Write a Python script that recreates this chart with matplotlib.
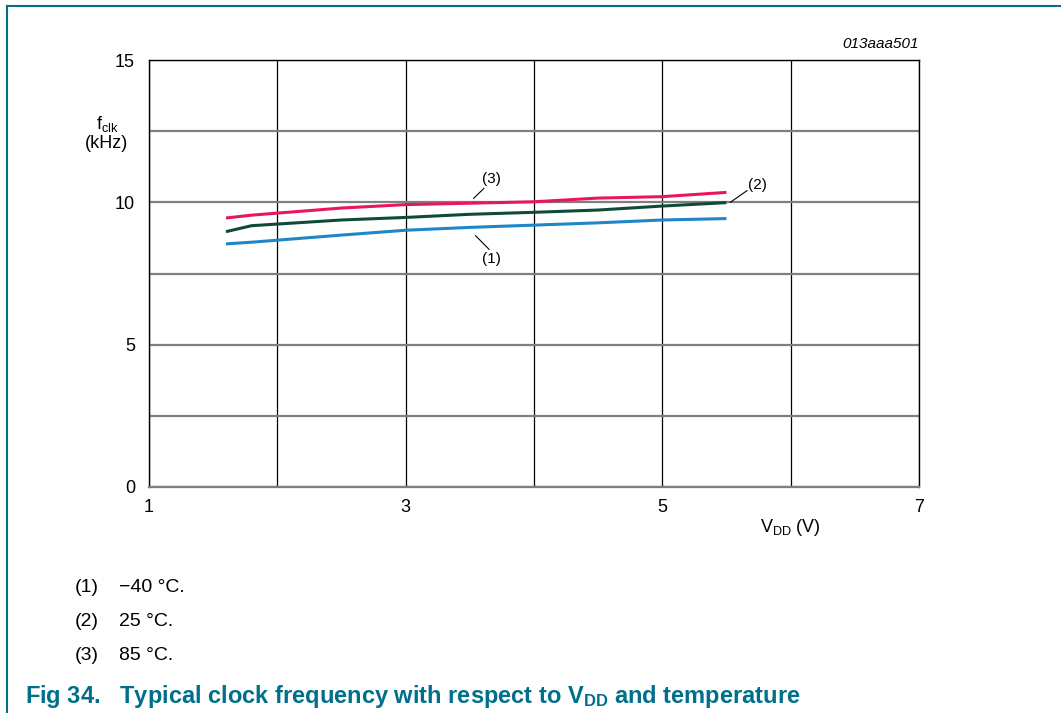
import numpy as np
import matplotlib.pyplot as plt

plt.rcParams['font.family'] = ['Liberation Sans', 'DejaVu Sans']

# supply voltage (V)
vdd = [1.6, 1.8, 2.5, 3.0, 3.5, 4.0, 4.5, 5.0, 5.5]
# clock frequency (kHz) per temperature
f_m40 = [8.54, 8.60, 8.85, 9.02, 9.12, 9.20, 9.28, 9.38, 9.43]
f_25 = [8.97, 9.18, 9.38, 9.47, 9.58, 9.65, 9.73, 9.87, 9.99]
f_85 = [9.45, 9.55, 9.80, 9.92, 9.97, 10.02, 10.15, 10.20, 10.35]

note_ids = ['(1)', '(2)', '(3)']
note_txt = ['\u221240 \u00b0C.', '25 \u00b0C.', '85 \u00b0C.']
teal = '#00708a'

fig = plt.figure(figsize=(10.61, 7.13), dpi=100)
ax = fig.add_axes([0.1404, 0.3170, 0.7257, 0.5988])

ax.plot(vdd, f_m40, color='#1f87c8', lw=2.2, solid_capstyle='butt')
ax.plot(vdd, f_25, color='#0f4a38', lw=2.2, solid_capstyle='butt')
ax.plot(vdd, f_85, color='#e8175d', lw=2.2, solid_capstyle='butt')

ax.set_xlim(1, 7)
ax.set_ylim(0, 15)
ax.set_xticks([1, 3, 5, 7])
ax.set_xticks([2, 4, 6], minor=True)
ax.set_yticks([0, 5, 10, 15])
ax.set_yticks([2.5, 7.5, 12.5], minor=True)
ax.tick_params(which='both', length=0, labelsize=13, pad=9)
ax.tick_params(axis='y', pad=10)
ax.grid(axis='x', which='both', color='black', lw=0.9)
ax.grid(axis='y', which='both', color='#7f7f7f', lw=1.6)
for s in ax.spines.values():
    s.set_color('black')
    s.set_linewidth(1.0)
ax.spines['bottom'].set_color('#7f7f7f')
ax.spines['bottom'].set_linewidth(1.6)

# curve labels with leader lines
ax.plot([3.53, 3.61], [10.14, 10.49], color='black', lw=0.8)
ax.text(3.67, 10.82, '(3)', fontsize=11, ha='center', va='center')
ax.plot([3.545, 3.65], [8.83, 8.35], color='black', lw=0.8)
ax.text(3.67, 8.0, '(1)', fontsize=11, ha='center', va='center')
ax.plot([5.53, 5.66], [10.0, 10.41], color='black', lw=0.8)
ax.text(5.74, 10.6, '(2)', fontsize=11, ha='center', va='center')

ax.text(1.0, 1.02, '013aaa501', transform=ax.transAxes, ha='right', va='bottom',
        fontsize=11, style='italic')
fig.text(107 / 1061, 1 - 133 / 713, '$\\mathregular{f_{clk}}$\n(kHz)', ha='center',
         va='center', fontsize=13, linespacing=1.1)
fig.text(790 / 1061, 1 - 527 / 713, '$\\mathregular{V_{DD}}$ (V)', ha='center',
         va='center', fontsize=13)

for i in range(len(note_ids)):
    y = 1 - (587 + 34 * i) / 713
    fig.text(75 / 1061, y, note_ids[i], ha='left', va='center', fontsize=14)
    fig.text(119 / 1061, y, note_txt[i], ha='left', va='center', fontsize=14)

fig.text(25 / 1061, 1 - 697 / 713,
         'Fig 34.   Typical clock frequency with respect to $\\mathregular{V_{DD}}$ and temperature',
         ha='left', va='center', fontsize=17, fontweight='bold', color=teal)

# page frame (top and left)
fig.add_artist(plt.Line2D([7 / 1061, 7 / 1061], [0, 1 - 6 / 713], color=teal, lw=1.5,
                          transform=fig.transFigure))
fig.add_artist(plt.Line2D([7 / 1061, 1], [1 - 6 / 713, 1 - 6 / 713], color=teal, lw=1.5,
                          transform=fig.transFigure))

fig.savefig('out.png', dpi=100)
